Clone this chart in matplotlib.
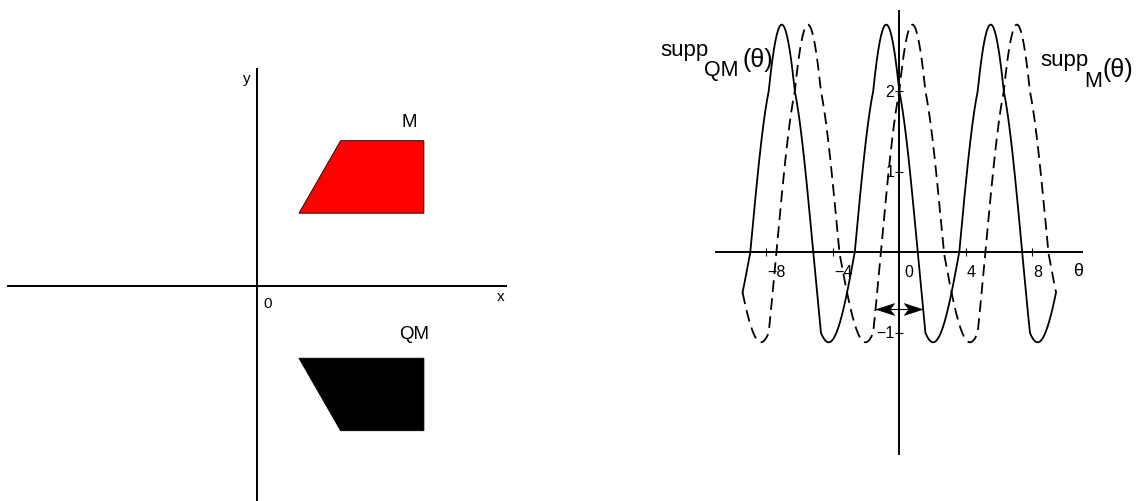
import numpy as np
import matplotlib.pyplot as plt
from matplotlib.path import Path

plt.rcParams['font.family'] = ['Liberation Sans', 'DejaVu Sans']

# Trapezoid M and its mirror image QM (reflection in the x-axis)
m_x = [0.5, 1.0, 2.0, 2.0]
m_y = [1.0, 2.0, 2.0, 1.0]
qm_x = [0.5, 1.0, 2.0, 2.0]
qm_y = [-1.0, -2.0, -2.0, -1.0]

# Support-function plot settings
theta_lo, theta_hi = -3 * np.pi, 3 * np.pi
x_ticks = [-8, -4, 4, 8]
x_tick_labels = ['\u22128', '\u22124', '4', '8']
y_ticks = [-1, 1, 2]
y_tick_labels = ['\u22121', '1', '2']
arrow_ends = [-1.38, 1.38]
arrow_level = -0.71


def support(xs, ys, theta):
    """Support function h(theta) = max_i <v_i, (cos theta, sin theta)>."""
    xs = np.asarray(xs)[:, None]
    ys = np.asarray(ys)[:, None]
    return np.max(xs * np.cos(theta) + ys * np.sin(theta), axis=0)


W, H = 1147, 502
fig = plt.figure(figsize=(W / 100, H / 100), dpi=100)

# ---------------- left panel: the two sets ----------------
ox, oy, sx, sy = 257.3, 286.7, 83.3, 72.5
top_px = oy - 3 * sy
ax1 = fig.add_axes([(ox - 3 * sx) / W, 0, 6 * sx / W, (H - top_px) / H])
ax1.set_xlim(-3, 3)
ax1.set_ylim(-(H - oy) / sy, 3)
ax1.axis('off')
ax1.axhline(0, color='black', lw=1.4)
ax1.axvline(0, color='black', lw=1.4)
ax1.fill(m_x, m_y, facecolor='#ff0000', edgecolor='black', lw=0.6)
ax1.fill(qm_x, qm_y, facecolor='black', edgecolor='black', lw=0.6)
ax1.text(-0.128, 2.865, 'y', fontsize=11, ha='center', va='center')
ax1.text(0.12, -0.245, '0', fontsize=11, ha='center', va='center')
ax1.text(2.925, -0.138, 'x', fontsize=11, ha='center', va='center')
ax1.text(1.82, 2.27, 'M', fontsize=13.5, ha='center', va='center')
ax1.text(1.88, -0.66, 'QM', fontsize=13.5, ha='center', va='center')

# ---------------- right panel: support functions ----------------
px0, py0, ux, uy = 899.3, 253.3, 16.63, 80.5
xl, xr = -11, 11
yt, yb = 3.0, -2.506
ax2 = fig.add_axes([(px0 + xl * ux) / W, 1 - (py0 - yb * uy) / H,
                    (xr - xl) * ux / W, (yt - yb) * uy / H])
ax2.set_xlim(xl, xr)
ax2.set_ylim(yb, yt)
for side in ('top', 'right'):
    ax2.spines[side].set_visible(False)
for side in ('left', 'bottom'):
    ax2.spines[side].set_position(('data', 0))
    ax2.spines[side].set_linewidth(1.4)
ax2.set_xticks(x_ticks)
ax2.set_yticks(y_ticks)
ax2.set_xticklabels([])
ax2.set_yticklabels([])
ax2.tick_params(direction='inout', length=6, width=0.8)
ax2.patch.set_alpha(0)

theta = np.linspace(theta_lo, theta_hi, 3000)
ax2.plot(theta, support(m_x, m_y, theta), color='black', lw=1.3,
         linestyle=(0, (6.5, 3.5)))
ax2.plot(theta, support(qm_x, qm_y, theta), color='black', lw=1.3)

for t, lab in zip(x_ticks, x_tick_labels):
    ax2.annotate(lab, xy=(t, 0), xytext=(1, -19), textcoords='offset pixels',
                 fontsize=11.5, ha='left', va='center')
ax2.annotate('0', xy=(0, 0), xytext=(5, -19), textcoords='offset pixels',
             fontsize=11.5, ha='left', va='center')
for t, lab in zip(y_ticks, y_tick_labels):
    ax2.annotate(lab, xy=(0, t), xytext=(-5, 0), textcoords='offset pixels',
                 fontsize=11.5, ha='right', va='center')
ax2.text(10.72, -0.22, '\u03b8', fontsize=13, ha='center', va='center')

# double-headed arrow with notched (stealth) heads
ax2.plot(arrow_ends, [arrow_level, arrow_level], color='black', lw=0.8)
head_right = Path([(0, 0), (-2, 0.65), (-1.5, 0), (-2, -0.65), (0, 0)],
                  [Path.MOVETO, Path.LINETO, Path.LINETO, Path.LINETO, Path.CLOSEPOLY])
head_left = Path([(0, 0), (2, 0.65), (1.5, 0), (2, -0.65), (0, 0)],
                 [Path.MOVETO, Path.LINETO, Path.LINETO, Path.LINETO, Path.CLOSEPOLY])
ax2.plot([arrow_ends[1]], [arrow_level], marker=head_right, markersize=26,
         color='black', markeredgewidth=0.5, linestyle='none')
ax2.plot([arrow_ends[0]], [arrow_level], marker=head_left, markersize=26,
         color='black', markeredgewidth=0.5, linestyle='none')


def label(x, y, parts):
    for (dx, dy, s, size) in parts:
        fig.text((x + dx) / W, 1 - (y + dy) / H, s, fontsize=size,
                 ha='left', va='baseline')


label(660, 56, [(0, 0, 'supp', 16), (44, 20, 'QM', 15.5), (83, 11, '(\u03b8)', 18)])
label(1040, 66, [(0, 0, 'supp', 16), (44, 21, 'M', 15.5), (63, 11, '(\u03b8)', 18)])

fig.savefig('out.png', dpi=100)
